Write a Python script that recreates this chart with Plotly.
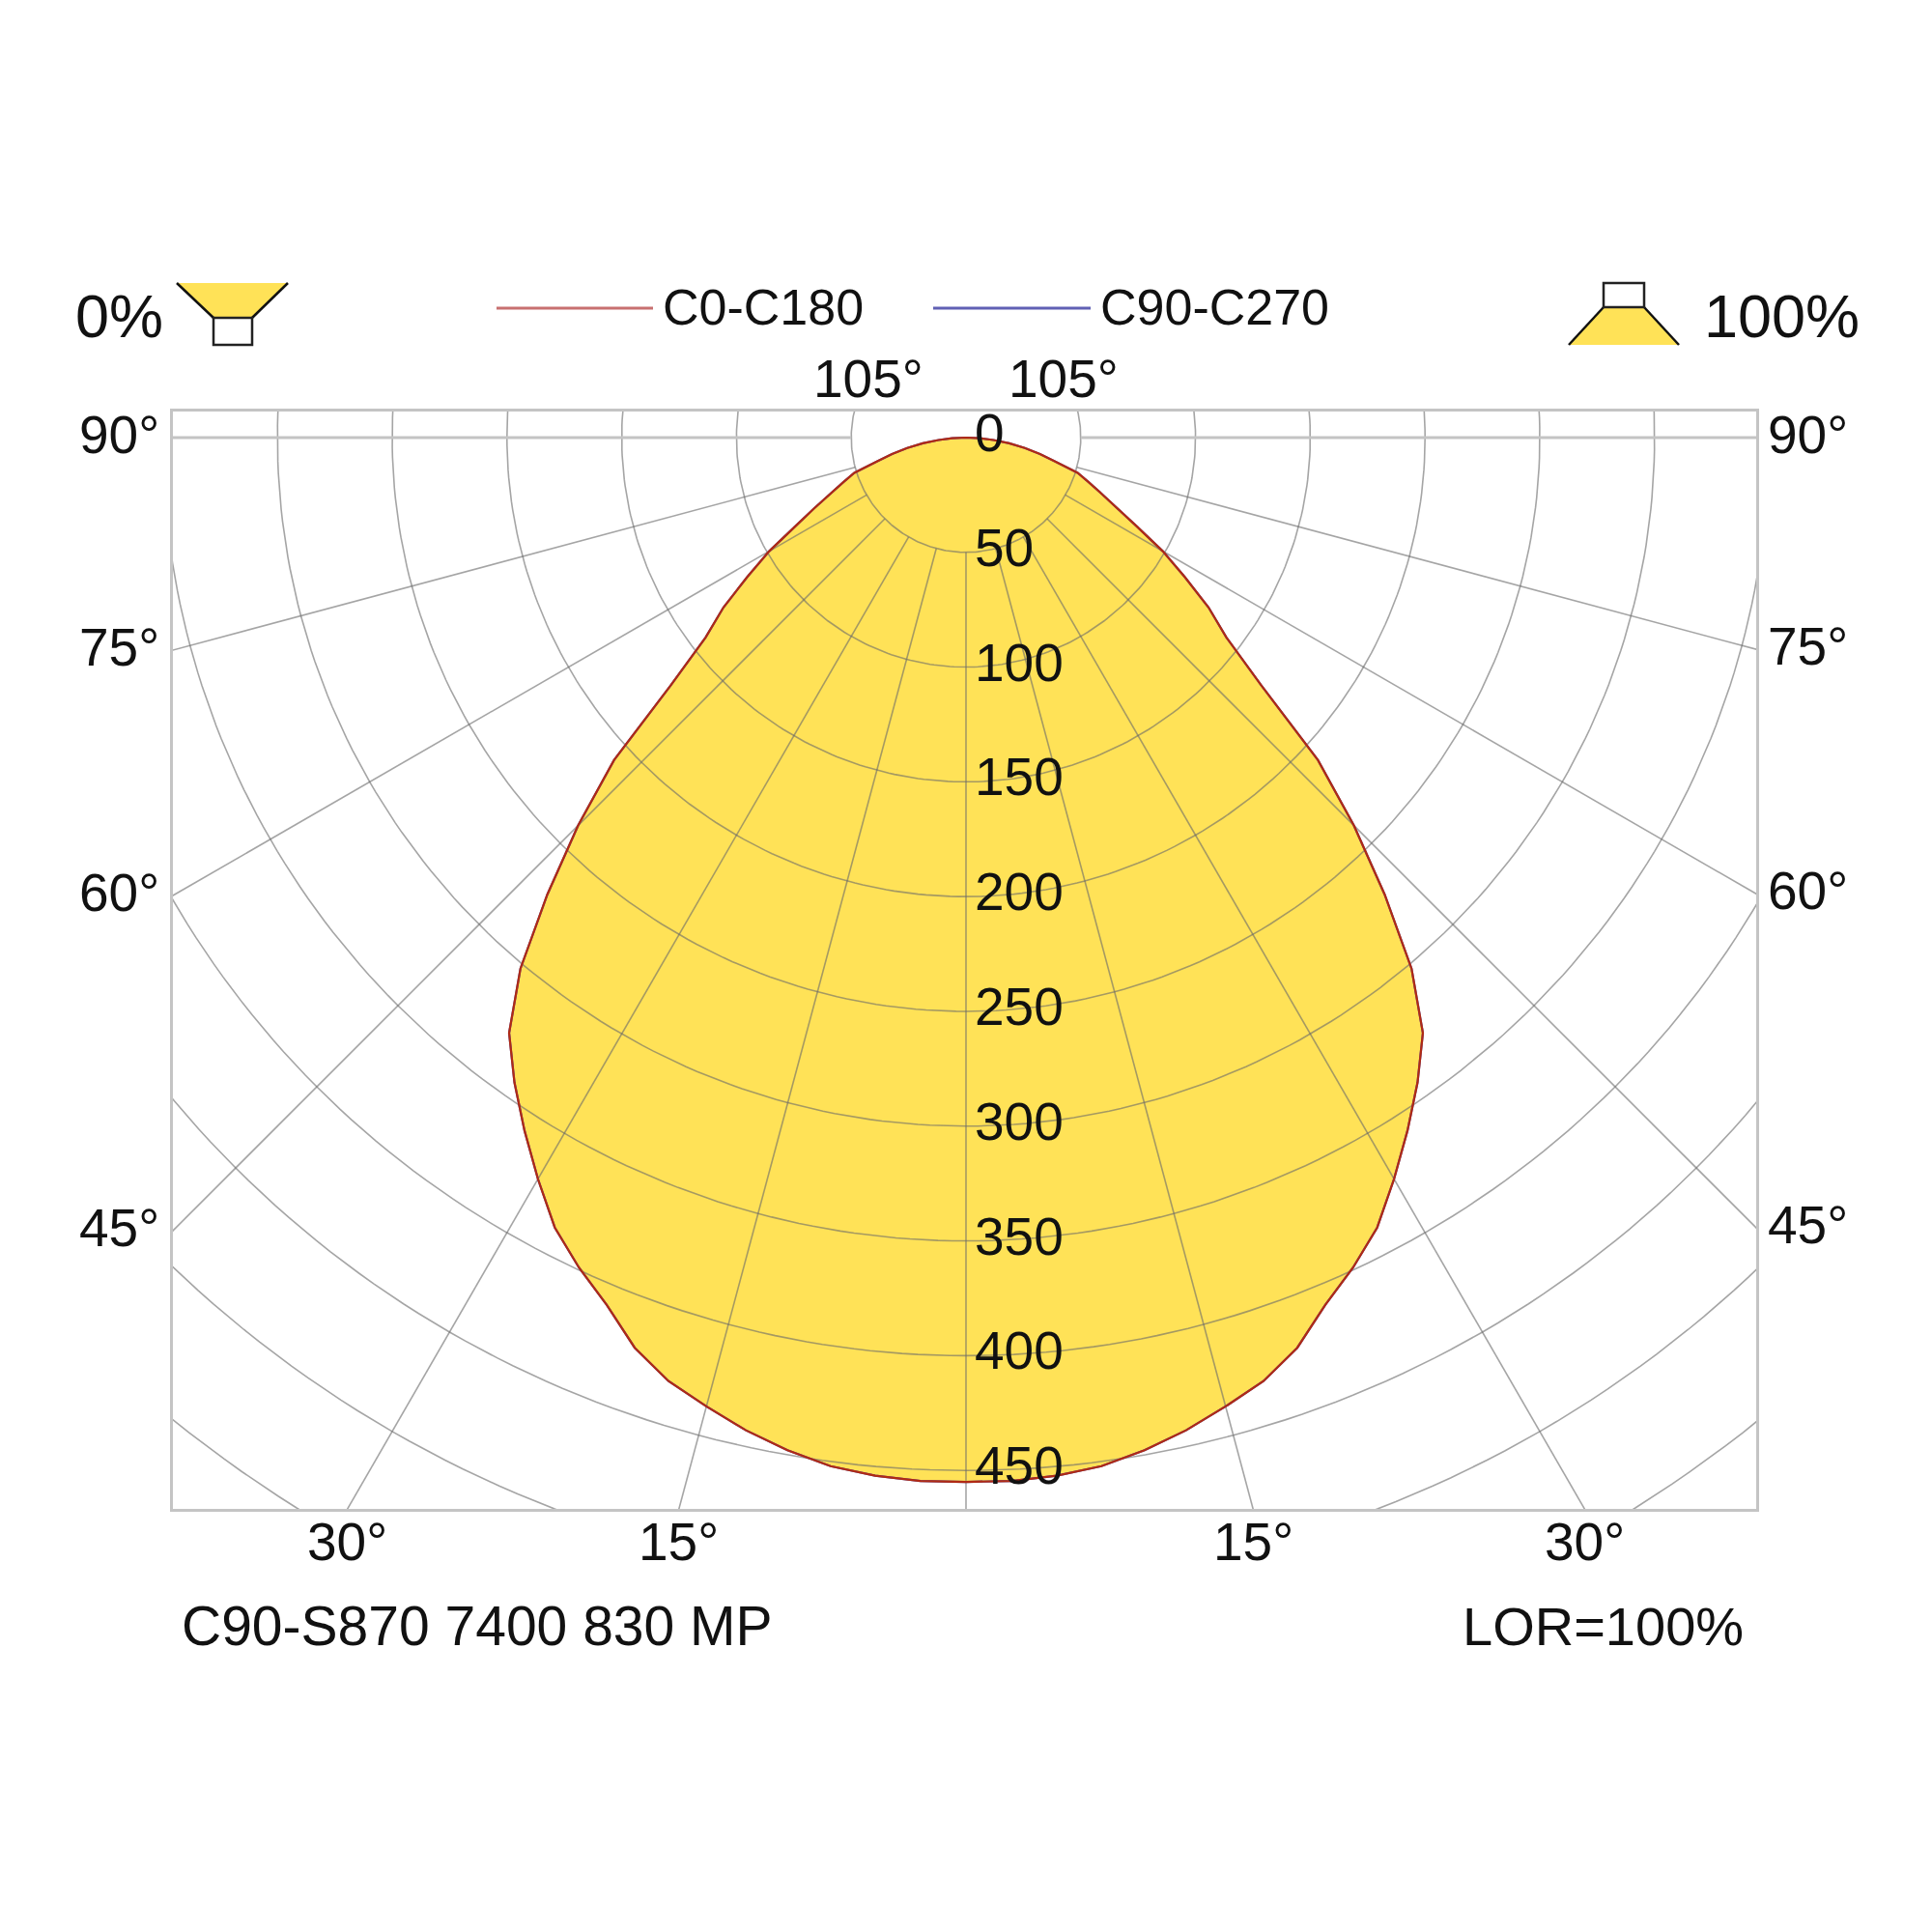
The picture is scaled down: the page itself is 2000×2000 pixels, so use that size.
import numpy as np
import plotly.graph_objects as go

# ---------------- data ----------------
gamma_deg = [0, 2.5, 5, 7.5, 10, 12.5, 15, 17.5, 20, 22.5, 25, 27.5, 30, 32.5, 35,
             37.5, 40, 42.5, 45, 47.5, 50, 52.5, 55, 57.5, 60, 62.5, 65, 67.5, 70,
             72.5, 75, 77.5, 80, 82.5, 85, 87.5, 90]
i_c0_c180 = [455, 455, 454, 452, 448, 443, 437, 431, 422, 409, 399, 388, 373, 358, 343,
             327, 302, 270, 239, 208, 168, 143, 129, 113, 99, 84, 73, 64, 57,
             51, 40, 33, 26, 19, 12, 6, 0]
i_c90_c270 = [455, 455, 454, 452, 448, 443, 437, 431, 422, 409, 399, 388, 373, 358, 343,
              327, 302, 270, 239, 208, 168, 143, 129, 113, 99, 84, 73, 64, 57,
              51, 40, 33, 26, 19, 12, 6, 0]
ring_values = [0, 50, 100, 150, 200, 250, 300, 350, 400, 450]
grid_rings = [50, 100, 150, 200, 250, 300, 350, 400, 450, 500, 550, 600, 650, 700]
angle_ticks = [15, 30, 45, 60, 75, 90, 105]
series_names = ["C0-C180", "C90-C270"]
footer_left = "C90-S870 7400 830 MP"
footer_right = "LOR=100%"
pct_down = "0%"
pct_up = "100%"

# ---------------- layout geometry (screen pixels) ----------------
OFF = 8                 # page body margin
W = H = 2000 - OFF      # figure size so the page stays 2000 px
S = 2.376               # px per cd
CX, CY = 1000, 453      # pole position on screen
BL, BR, BT, BB = 179, 1818, 426, 1562

xmin, xmax = (BL - CX) / S, (BR - CX) / S
ymin, ymax = (CY - BB) / S, (CY - BT) / S


def px(X):
    return CX + X * S


def py(Y):
    return CY - Y * S


def paper_x(p):
    return (p - OFF) / W


def paper_y(p):
    return 1 - (p - OFF) / H


FONT = "Liberation Sans, Arial, sans-serif"
TXT = "#111111"
GRID = "rgba(105,105,105,0.6)"
FRAME = "#c4c4c4"
YELLOW = "#FFE257"

g = np.radians(np.array(gamma_deg))


def half(vals, side):
    r = np.array(vals, dtype=float)
    return side * r * np.sin(g), -r * np.cos(g)


fig = go.Figure()

# fill of the distribution (left half from top to nadir, right half back to top)
xl, yl = half(i_c0_c180, -1)
xr, yr = half(i_c0_c180, 1)
fx = np.concatenate([xl[::-1], xr[1:]])
fy = np.concatenate([yl[::-1], yr[1:]])
fig.add_trace(go.Scatter(x=fx, y=fy, mode="lines", fill="toself", fillcolor=YELLOW,
                         line=dict(width=0), hoverinfo="skip", showlegend=False))

# rings
th = np.radians(np.arange(0, 361, 1))
rx, ry = [], []
for r in grid_rings:
    rx += list(r * np.sin(th)) + [None]
    ry += list(r * np.cos(th)) + [None]
fig.add_trace(go.Scatter(x=rx, y=ry, mode="lines", line=dict(color=GRID, width=1.6),
                         hoverinfo="skip", showlegend=False))

# radial lines (start at the 50 ring)
lx, ly = [], []
hx, hy = [], []
for a in [0] + angle_ticks:
    for side in ([1] if a == 0 else [-1, 1]):
        ar = np.radians(a)
        xs = [side * 50 * np.sin(ar), side * 900 * np.sin(ar)]
        ys = [-50 * np.cos(ar), -900 * np.cos(ar)]
        if a == 90:
            hx += xs + [None]
            hy += ys + [None]
        else:
            lx += xs + [None]
            ly += ys + [None]
fig.add_trace(go.Scatter(x=lx, y=ly, mode="lines", line=dict(color=GRID, width=1.6),
                         hoverinfo="skip", showlegend=False))
fig.add_trace(go.Scatter(x=hx, y=hy, mode="lines", line=dict(color=FRAME, width=3),
                         hoverinfo="skip", showlegend=False))

# outlines: C90-C270 (blue) under C0-C180 (red)
for vals, col, name in [(i_c90_c270, "#5050b0", series_names[1]),
                        (i_c0_c180, "#b02a14", series_names[0])]:
    a_x, a_y = half(vals, -1)
    b_x, b_y = half(vals, 1)
    ox = np.concatenate([a_x[::-1], b_x[1:]])
    oy = np.concatenate([a_y[::-1], b_y[1:]])
    fig.add_trace(go.Scatter(x=ox, y=oy, mode="lines", name=name,
                             line=dict(color=col, width=2.2), showlegend=False))

annotations = []

# ring labels
for v in ring_values:
    annotations.append(dict(x=paper_x(1007), y=paper_y(py(-v) - 5), xref="paper", yref="paper",
                            text=str(v), showarrow=False, xanchor="left", yanchor="middle",
                            font=dict(family=FONT, size=55, color=TXT)))

# angle labels where each radial line meets the frame
for a in angle_ticks:
    ar = np.radians(a)
    for side in (-1, 1):
        dx, dy = side * np.sin(ar), -np.cos(ar)
        ts = []
        ts.append(((xmax if dx > 0 else xmin) / dx, "side"))
        if dy < -1e-9:
            ts.append((ymin / dy, "bottom"))
        elif dy > 1e-9:
            ts.append((ymax / dy, "top"))
        t, edge = min(ts, key=lambda z: z[0])
        X, Y = t * dx, t * dy
        if edge == "side":
            if side < 0:
                ax, xa = BL - 12, "right"
            else:
                ax, xa = BR + 10, "left"
            annotations.append(dict(x=paper_x(ax), y=paper_y(py(Y) - 3), xref="paper", yref="paper",
                                    text=f"{a}°", showarrow=False, xanchor=xa, yanchor="middle",
                                    font=dict(family=FONT, size=55, color=TXT)))
        elif edge == "bottom":
            annotations.append(dict(x=paper_x(px(X)), y=paper_y(1596), xref="paper", yref="paper",
                                    text=f"{a}°", showarrow=False, xanchor="center", yanchor="middle",
                                    font=dict(family=FONT, size=55, color=TXT)))
        else:
            annotations.append(dict(x=paper_x(px(X)), y=paper_y(392), xref="paper", yref="paper",
                                    text=f"{a}°", showarrow=False, xanchor="center", yanchor="middle",
                                    font=dict(family=FONT, size=55, color=TXT)))

# footer
annotations.append(dict(x=paper_x(186), y=paper_y(1683), xref="paper", yref="paper", text=footer_left,
                        showarrow=False, xanchor="left", yanchor="middle",
                        font=dict(family=FONT, size=57, color=TXT)))
annotations.append(dict(x=paper_x(1807), y=paper_y(1683), xref="paper", yref="paper", text=footer_right,
                        showarrow=False, xanchor="right", yanchor="middle",
                        font=dict(family=FONT, size=56, color=TXT)))

# header: percentages and legend
annotations.append(dict(x=paper_x(76), y=paper_y(327), xref="paper", yref="paper", text=pct_down,
                        showarrow=False, xanchor="left", yanchor="middle",
                        font=dict(family=FONT, size=63, color=TXT)))
annotations.append(dict(x=paper_x(1927), y=paper_y(327), xref="paper", yref="paper", text=pct_up,
                        showarrow=False, xanchor="right", yanchor="middle",
                        font=dict(family=FONT, size=63, color=TXT)))
legend_items = [(series_names[0], "#c87070", 514, 676, 684),
                (series_names[1], "#6060b4", 966, 1129, 1137)]
shapes = []
for name, col, x0, x1, xt in legend_items:
    shapes.append(dict(type="line", xref="paper", yref="paper", x0=paper_x(x0), x1=paper_x(x1),
                       y0=paper_y(319), y1=paper_y(319), line=dict(color=col, width=3)))
    annotations.append(dict(x=paper_x(xt), y=paper_y(318), xref="paper", yref="paper", text=name,
                            showarrow=False, xanchor="left", yanchor="middle",
                            font=dict(family=FONT, size=52, color=TXT)))


def ppath(points, close=True):
    s = "M " + " L ".join(f"{paper_x(a):.5f},{paper_y(b):.5f}" for a, b in points)
    return s + (" Z" if close else "")


# 0% icon (light going up)
shapes.append(dict(type="path", xref="paper", yref="paper",
                   path=ppath([(183, 293), (298, 293), (261, 329), (221, 329)]),
                   fillcolor=YELLOW, line=dict(width=0)))
shapes.append(dict(type="path", xref="paper", yref="paper",
                   path=ppath([(183, 293), (221, 329)], close=False), line=dict(color="#111", width=2.5)))
shapes.append(dict(type="path", xref="paper", yref="paper",
                   path=ppath([(298, 293), (261, 329)], close=False), line=dict(color="#111", width=2.5)))
shapes.append(dict(type="rect", xref="paper", yref="paper", x0=paper_x(221), x1=paper_x(261),
                   y0=paper_y(329), y1=paper_y(357), fillcolor="white", line=dict(color="#222", width=2.5)))
# 100% icon (light going down)
shapes.append(dict(type="path", xref="paper", yref="paper",
                   path=ppath([(1660, 318), (1702, 318), (1738, 357), (1624, 357)]),
                   fillcolor=YELLOW, line=dict(width=0)))
shapes.append(dict(type="path", xref="paper", yref="paper",
                   path=ppath([(1660, 318), (1624, 357)], close=False), line=dict(color="#111", width=2.5)))
shapes.append(dict(type="path", xref="paper", yref="paper",
                   path=ppath([(1702, 318), (1738, 357)], close=False), line=dict(color="#111", width=2.5)))
shapes.append(dict(type="rect", xref="paper", yref="paper", x0=paper_x(1660), x1=paper_x(1702),
                   y0=paper_y(293), y1=paper_y(318), fillcolor="white", line=dict(color="#222", width=2.5)))

fig.update_layout(
    width=W, height=H, autosize=False,
    margin=dict(l=0, r=0, t=0, b=0),
    paper_bgcolor="white", plot_bgcolor="white",
    showlegend=False,
    xaxis=dict(range=[xmin, xmax], domain=[paper_x(BL), paper_x(BR)], showgrid=False, zeroline=False,
               showticklabels=False, ticks="", showline=True, mirror=True,
               linecolor=FRAME, linewidth=3, fixedrange=True),
    yaxis=dict(range=[ymin, ymax], domain=[paper_y(BB), paper_y(BT)], showgrid=False, zeroline=False,
               showticklabels=False, ticks="", showline=True, mirror=True,
               linecolor=FRAME, linewidth=3, fixedrange=True),
    annotations=annotations,
    shapes=shapes,
)

fig.write_html("out.html")
